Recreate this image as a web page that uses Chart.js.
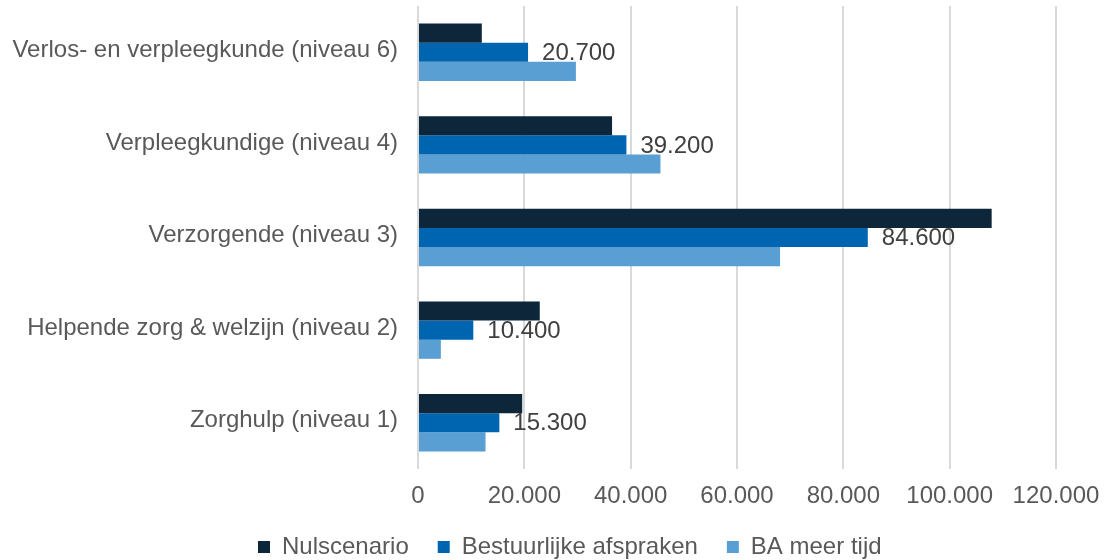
<!DOCTYPE html>
<html>
<head>
<meta charset="utf-8">
<script src="https://cdn.jsdelivr.net/npm/chart.js@4/dist/chart.umd.min.js"></script>
<style>
  html, body { margin: 0; padding: 0; background: #ffffff; }
  #wrap { width: 1105px; height: 560px; }
</style>
</head>
<body>
<div id="wrap"><canvas id="c" width="1105" height="560"></canvas></div>
<script>
const categories = [
  'Verlos- en verpleegkunde (niveau 6)',
  'Verpleegkundige (niveau 4)',
  'Verzorgende (niveau 3)',
  'Helpende zorg & welzijn (niveau 2)',
  'Zorghulp (niveau 1)'
];
const seriesNames = ['Nulscenario', 'Bestuurlijke afspraken', 'BA meer tijd'];
const nulscenario = [12000, 36500, 107900, 22900, 19600];
const bestuurlijkeAfspraken = [20700, 39200, 84600, 10400, 15300];
const baMeerTijd = [29700, 45600, 68100, 4300, 12700];
const xTickValues = [0, 20000, 40000, 60000, 80000, 100000, 120000];

const FONT = "'Liberation Sans', Arial, sans-serif";
const fmt = v => String(Math.round(v)).replace(/\B(?=(\d{3})+(?!\d))/g, '.');

const valueLabels = {
  id: 'valueLabels',
  afterDatasetsDraw(chart) {
    const ctx = chart.ctx;
    const meta = chart.getDatasetMeta(1);
    const data = chart.data.datasets[1].data;
    ctx.save();
    ctx.font = '24px ' + FONT;
    ctx.fillStyle = '#404040';
    ctx.textAlign = 'left';
    ctx.textBaseline = 'middle';
    meta.data.forEach((bar, i) => {
      ctx.fillText(fmt(data[i]), bar.x + 14, bar.y + 1);
    });
    ctx.restore();
  }
};

const legendShift = {
  id: 'legendShift',
  afterLayout(chart) {
    const lg = chart.legend;
    if (!lg || !lg.lineWidths) return;
    const p = lg.options.labels.padding;
    const x0 = (lg.left + p + lg.right - lg.lineWidths[0]) / 2;
    const dx = 258 - x0;
    lg.left += dx;
    lg.right += dx;
  }
};

new Chart(document.getElementById('c'), {
  type: 'bar',
  data: {
    labels: categories,
    datasets: [
      { label: seriesNames[0], data: nulscenario, backgroundColor: '#0e2639' },
      { label: seriesNames[1], data: bestuurlijkeAfspraken, backgroundColor: '#0065b0' },
      { label: seriesNames[2], data: baMeerTijd, backgroundColor: '#5a9fd3' }
    ]
  },
  options: {
    indexAxis: 'y',
    responsive: false,
    devicePixelRatio: 1,
    animation: false,
    events: [],
    categoryPercentage: 0.62,
    barPercentage: 1.0,
    layout: { padding: { left: 0, right: 49, top: 6, bottom: -9 } },
    scales: {
      x: {
        min: 0,
        max: 120000,
        afterBuildTicks(scale) { scale.ticks = xTickValues.map(v => ({ value: v })); },
        afterFit(scale) { scale.height = 37; scale.paddingLeft = 0; scale.paddingRight = 0; },
        grid: { color: '#d9d9d9', lineWidth: 2, drawTicks: false },
        border: { display: false },
        ticks: {
          padding: 13,
          color: '#595959',
          font: { family: FONT, size: 24 },
          maxRotation: 0,
          callback: v => fmt(v)
        }
      },
      y: {
        afterFit(scale) { scale.width = 418; scale.paddingTop = 0; scale.paddingBottom = 0; },
        grid: { display: false, drawTicks: false },
        border: { display: false },
        ticks: {
          padding: 20,
          labelOffset: -2,
          color: '#595959',
          font: { family: FONT, size: 24 }
        }
      }
    },
    plugins: {
      tooltip: { enabled: false },
      legend: {
        position: 'bottom',
        align: 'center',
        labels: {
          boxWidth: 12,
          boxHeight: 12,
          padding: 29,
          color: '#595959',
          font: { family: FONT, size: 24 }
        }
      }
    }
  },
  plugins: [valueLabels, legendShift]
});
</script>
</body>
</html>
